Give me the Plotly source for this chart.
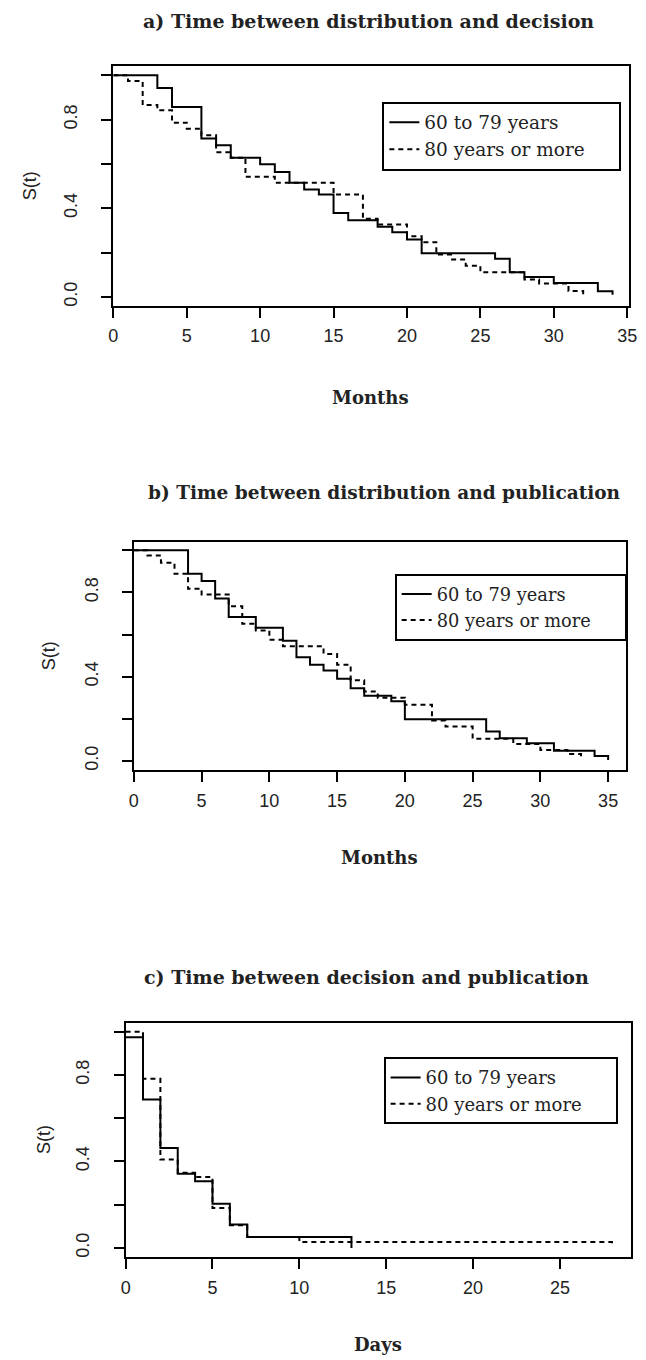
import plotly.graph_objects as go

W, H = 646, 1360

# ---------------- data ----------------
# a) Time between distribution and decision (months)
a_t_6079 = [0, 3, 4, 6, 7, 8, 10, 11, 12, 13, 14, 15, 16, 18, 19, 20, 21, 26, 27, 28, 30, 33, 34]
a_s_6079 = [1.0, 0.943, 0.857, 0.715, 0.684, 0.628, 0.598, 0.563, 0.515, 0.485, 0.462, 0.378,
            0.346, 0.316, 0.292, 0.259, 0.197, 0.172, 0.111, 0.090, 0.063, 0.025, 0.010]
a_t_80 = [0, 1, 2, 3, 4, 5, 6, 7, 8, 9, 11, 15, 17, 18, 20, 21, 22, 23, 24, 25, 28, 29, 31, 32]
a_s_80 = [1.0, 0.974, 0.866, 0.842, 0.786, 0.759, 0.729, 0.653, 0.628, 0.542, 0.515, 0.462,
          0.353, 0.327, 0.274, 0.247, 0.191, 0.169, 0.141, 0.111, 0.078, 0.060, 0.027, 0.012]

# b) Time between distribution and publication (months)
b_t_6079 = [0, 4, 5, 6, 7, 9, 11, 12, 13, 14, 15, 16, 17, 19, 20, 26, 27, 29, 31, 34, 35]
b_s_6079 = [1.0, 0.889, 0.854, 0.771, 0.683, 0.632, 0.571, 0.492, 0.457, 0.429, 0.390, 0.345,
            0.310, 0.283, 0.198, 0.140, 0.108, 0.084, 0.049, 0.024, 0.005]
b_t_80 = [0, 1, 2, 3, 4, 5, 7, 8, 9, 10, 11, 14, 15, 16, 17, 18, 20, 22, 23, 25, 28, 30, 32, 33]
b_s_80 = [1.0, 0.976, 0.941, 0.889, 0.818, 0.790, 0.735, 0.651, 0.619, 0.576, 0.544, 0.508,
          0.457, 0.383, 0.330, 0.300, 0.267, 0.192, 0.163, 0.105, 0.081, 0.052, 0.033, 0.012]

# c) Time between decision and publication (days)
c_t_6079 = [0, 1, 2, 3, 4, 5, 6, 7, 13]
c_s_6079 = [0.974, 0.686, 0.462, 0.343, 0.308, 0.205, 0.108, 0.051, 0.0]
c_t_80 = [0, 1, 2, 3, 4, 5, 6, 7, 10, 28]
c_s_80 = [1.0, 0.782, 0.409, 0.348, 0.328, 0.185, 0.105, 0.051, 0.028, 0.014]

titles = ["a) Time between distribution and decision",
          "b) Time between distribution and publication",
          "c) Time between decision and publication"]
x_titles = ["Months", "Months", "Days"]
series_names = ["60 to 79 years", "80 years or more"]
y_ticks = [0, 0.2, 0.4, 0.6, 0.8, 1.0]
y_ticktext = ["0.0", "", "0.4", "", "0.8", ""]
x_ticks_ab = [0, 5, 10, 15, 20, 25, 30, 35]
x_ticks_c = [0, 5, 10, 15, 20, 25]

# ---------------- layout geometry (pixels) ----------------
panels = [
    dict(box=(110.7, 637.5, 66, 306), xr=[0, 35.1], yr=[-0.04, 1.042], xt=x_ticks_ab,
         title_xy=(372, 21), title_size=19, xlab_y=398, ylab_x=25,
         leg=(385.7, 101.7), leg_size=18.5),
    dict(box=(131.7, 634.5, 542.3, 771), xr=[0, 36.3], yr=[-0.045, 1.04], xt=x_ticks_ab,
         title_xy=(388, 493), title_size=18.5, xlab_y=858, ylab_x=45,
         leg=(398.3, 574.3), leg_size=17.8),
    dict(box=(123.3, 640, 1023.3, 1258), xr=[0, 29.1], yr=[-0.042, 1.042], xt=x_ticks_c,
         title_xy=(369, 978), title_size=19, xlab_y=1345, ylab_x=40,
         leg=(387, 1058), leg_size=18),
]

data_sets = [
    (a_t_6079, a_s_6079, a_t_80, a_s_80),
    (b_t_6079, b_s_6079, b_t_80, b_s_80),
    (c_t_6079, c_s_6079, c_t_80, c_s_80),
]

SERIF = "DejaVu Serif"
SANS = "Liberation Sans"
PAD = "\u00a0" * 5

fig = go.Figure()
layout = dict(width=W, height=H, margin=dict(l=0, r=0, t=0, b=0),
              plot_bgcolor="white", paper_bgcolor="white", annotations=[])

for i, (p, d) in enumerate(zip(panels, data_sets)):
    n = "" if i == 0 else str(i + 1)
    xa, ya = "x" + n, "y" + n
    leg = "legend" + n
    t1, s1, t2, s2 = d
    fig.add_trace(go.Scatter(x=t1, y=s1, mode="lines", name=series_names[0] + PAD,
                             line=dict(shape="hv", color="black", width=2),
                             xaxis=xa, yaxis=ya, legend=leg))
    fig.add_trace(go.Scatter(x=t2, y=s2, mode="lines", name=series_names[1] + PAD,
                             line=dict(shape="hv", color="black", width=2, dash="5px,4px"),
                             xaxis=xa, yaxis=ya, legend=leg))
    x0, x1, y0, y1 = p["box"]
    axis_common = dict(showline=True, linecolor="black", linewidth=2, mirror=True,
                       ticks="outside", ticklen=10, tickwidth=2, tickcolor="black",
                       showgrid=False, zeroline=False, fixedrange=True,
                       ticklabeloverflow="allow",
                       tickfont=dict(family=SANS, size=18, color="#222"))
    layout["xaxis" + n] = dict(axis_common, domain=[x0 / W, x1 / W], range=p["xr"],
                               tickvals=p["xt"], anchor=ya, ticklabelstandoff=3)
    layout["yaxis" + n] = dict(axis_common, domain=[1 - y1 / H, 1 - y0 / H], range=p["yr"],
                               tickvals=y_ticks, ticktext=y_ticktext, tickangle=-90,
                               anchor=xa, ticklabelstandoff=17)
    layout[leg] = dict(x=p["leg"][0] / W, y=1 - p["leg"][1] / H, xanchor="left", yanchor="top",
                       bordercolor="black", borderwidth=2, bgcolor="white",
                       font=dict(family=SERIF, size=p["leg_size"], color="#222"),
                       itemwidth=30, tracegroupgap=0)
    cx = (x0 + x1) / 2
    layout["annotations"] += [
        dict(text="<b>" + titles[i] + "</b>", x=p["title_xy"][0] / W, y=1 - p["title_xy"][1] / H,
             xref="paper", yref="paper", showarrow=False, xanchor="center", yanchor="middle",
             font=dict(family=SERIF, size=p["title_size"], color="#222")),
        dict(text="<b>" + x_titles[i] + "</b>", x=cx / W, y=1 - p["xlab_y"] / H,
             xref="paper", yref="paper", showarrow=False, xanchor="center", yanchor="middle",
             font=dict(family=SERIF, size=18, color="#222")),
        dict(text="S(t)", x=p["ylab_x"] / W, y=1 - ((y0 + y1) / 2) / H, textangle=-90,
             xref="paper", yref="paper", showarrow=False, xanchor="center", yanchor="middle",
             font=dict(family=SANS, size=18, color="#222")),
    ]

fig.update_layout(**layout)
fig.write_html("out.html", config={"displayModeBar": False},
               post_script="document.body.style.margin='0';document.body.style.overflow='hidden';")
